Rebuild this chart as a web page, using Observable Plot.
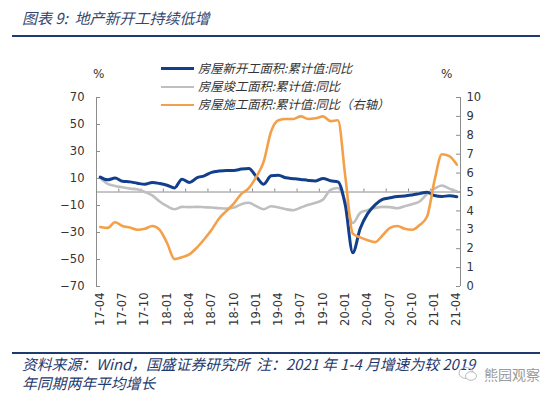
<!DOCTYPE html>
<html>
<head>
<meta charset="utf-8">
<script src="https://cdn.jsdelivr.net/npm/d3@7"></script>
<script src="https://cdn.jsdelivr.net/npm/@observablehq/plot@0.6"></script>
<style>
  body { margin: 0; background: #fff; }
  #wrap { position: relative; width: 550px; height: 397px; overflow: hidden; background: #fff; font-family: "Noto Sans CJK SC", sans-serif; }
  #chart { position: absolute; left: 0; top: 0; }
  .title { position: absolute; left: 22px; top: 9px; font-size: 15px; line-height: 18px; font-style: italic; color: #34466e; white-space: nowrap; }
  .rule { position: absolute; left: 12px; width: 528px; height: 2px; background: #1f3a6e; }
  .leg { position: absolute; left: 161px; font-size: 12.3px; line-height: 14px; color: #333; font-style: italic; white-space: nowrap; }
  .leg span.sw { display: inline-block; width: 33px; vertical-align: middle; margin-right: 4px; position: relative; top: -1px; }
  .pct { position: absolute; font-family: "DejaVu Sans", sans-serif; font-size: 12px; color: #333; }
  .foot { position: absolute; left: 22px; font-size: 14.8px; line-height: 17px; font-style: italic; color: #1f3a6e; white-space: nowrap; }
  .wm { position: absolute; left: 484px; top: 364px; font-size: 14px; color: #9a9a9a; white-space: nowrap; }
  .wmicon { position: absolute; left: 458px; top: 366px; width: 20px; height: 16px; }
</style>
</head>
<body>
<div id="wrap">
  <div class="title">图表 9:&nbsp; 地产新开工持续低增</div>
  <div class="rule" style="top:35px"></div>
  <div id="chart"></div>
  <div class="pct" style="left:93px; top:67px">%</div>
  <div class="pct" style="left:441px; top:67px">%</div>
  <div id="legend"></div>
  <div class="rule" style="top:352px"></div>
  <div class="foot" style="top:355px">资料来源：Wind，国盛证券研究所&nbsp; 注：2021 年 1-4 月增速为较 2019</div>
  <div class="foot" style="top:374px">年同期两年平均增长</div>
  <svg class="wmicon" viewBox="0 0 20 16"><ellipse cx="8" cy="7" rx="7" ry="5.5" fill="none" stroke="#bbb" stroke-width="1"/><ellipse cx="13" cy="10" rx="5.5" ry="4.3" fill="#fff" stroke="#bbb" stroke-width="1"/></svg>
  <div class="wm">熊园观察</div>
</div>
<script>
// ---- data ----
const months = [
  "17-04","17-05","17-06","17-07","17-08","17-09","17-10","17-11","17-12",
  "18-01","18-02","18-03","18-04","18-05","18-06","18-07","18-08","18-09","18-10","18-11","18-12",
  "19-01","19-02","19-03","19-04","19-05","19-06","19-07","19-08","19-09","19-10","19-11","19-12",
  "20-01","20-02","20-03","20-04","20-05","20-06","20-07","20-08","20-09","20-10","20-11","20-12",
  "21-01","21-02","21-03","21-04"
];
const xTickLabels = ["17-04","17-07","17-10","18-01","18-04","18-07","18-10","19-01","19-04","19-07","19-10","20-01","20-04","20-07","20-10","21-01","21-04"];

// 房屋新开工面积:累计值:同比 (left axis, %)
const newStarts = [
  11, 9, 10.3, 8, 7.5, 6.5, 5.7, 7, 6.3,
  5, 3, 9.5, 7, 10.5, 12, 14.5, 15.5, 16, 16, 17, 17.5,
  11.5, 5.8, 12, 12.5, 10.5, 9.9, 9.3, 8.6, 8.2, 10, 8.3, 7.5,
  -10, -45, -27, -16, -9.5, -5.5, -4.3, -3.3, -3, -2.2, -1.2, -0.2,
  -2.6, -3.3, -2.8, -3.5
];
// 房屋竣工面积:累计值:同比 (left axis, %)
const completions = [
  10.5, 6, 4.5, 3.5, 2.5, 2, 0, -2.5, -7,
  -10.5, -12.8, -11, -11.2, -11, -11.3, -11.5, -12, -12.3, -11.5, -9, -8,
  -10.5, -12.8, -10.5, -11.5, -12.8, -13.5, -11.5, -9.5, -8, -5.5, 1.5, 3,
  -7, -23, -15.5, -13.5, -11.8, -11, -11.2, -12, -10.5, -9, -7, -1.5,
  2.5, 4.8, 2.5, 0.5
];
// 房屋施工面积:累计值:同比 (right axis, %)
const underConstruction = [
  3.15, 3.1, 3.4, 3.2, 3.12, 3.0, 3.05, 3.2, 3.0,
  2.3, 1.45, 1.55, 1.7, 2.05, 2.5, 3.0, 3.6, 4.0, 4.4, 4.9, 5.2,
  5.8, 6.6, 8.2, 8.8, 8.86, 8.86, 9.0, 8.86, 8.9, 9.0, 8.75, 8.8,
  5.8, 2.8, 2.6, 2.45, 2.35, 2.7, 3.1, 3.2, 3.05, 3.0, 3.25, 3.7,
  5.6, 7.0, 6.9, 6.45
];

const seriesNames = ["房屋新开工面积:累计值:同比", "房屋竣工面积:累计值:同比", "房屋施工面积:累计值:同比（右轴）"];
const seriesColors = ["#123f8c", "#bfbfbf", "#f4a04a"];

const leftTicks = [70, 50, 30, 10, -10, -30, -50, -70];
const rightTicks = [0, 1, 2, 3, 4, 5, 6, 7, 8, 9, 10];

// ---- helpers ----
const leftMin = -70, leftMax = 70, rightMin = 0, rightMax = 10;
const toLeft = v => leftMin + (v - rightMin) * (leftMax - leftMin) / (rightMax - rightMin);
const fromLeft = v => rightMin + (v - leftMin) * (rightMax - rightMin) / (leftMax - leftMin);

const rows = months.map((m, i) => ({i, m, a: newStarts[i], b: completions[i], c: toLeft(underConstruction[i])}));
const xTickIdx = xTickLabels.map(l => months.indexOf(l));
const lastIdx = months.length - 1;
const boundaries = d3.range(-0.5 + 3, lastIdx, 3);
const axisColor = "#8c8c8c";

const chart = Plot.plot({
  width: 550,
  height: 397,
  marginLeft: 96,
  marginRight: 90,
  marginTop: 97,
  marginBottom: 111,
  style: {fontFamily: "DejaVu Sans, sans-serif", fontSize: "11.5px", color: "#333", background: "transparent"},
  x: {type: "linear", domain: [-0.5, lastIdx + 0.5], label: null},
  y: {type: "linear", domain: [leftMin, leftMax], label: null},
  marks: [
    // zero line with category tick marks
    Plot.ruleY([0], {stroke: axisColor, strokeWidth: 1}),
    Plot.ruleX(boundaries, {y1: 0, y2: 0, insetTop: -3, stroke: axisColor}),
    // axis lines
    Plot.ruleX([-0.5], {y1: leftMin, y2: leftMax, stroke: axisColor}),
    Plot.ruleX([lastIdx + 0.5], {y1: leftMin, y2: leftMax, stroke: axisColor}),
    // inner ticks
    Plot.ruleY(leftTicks, {x1: -0.5, x2: -0.5, insetRight: -4, stroke: axisColor}),
    Plot.ruleY(rightTicks.map(toLeft), {x1: lastIdx + 0.5, x2: lastIdx + 0.5, insetLeft: -4, stroke: axisColor}),
    // series
    Plot.line(rows, {x: "i", y: "b", stroke: seriesColors[1], strokeWidth: 2.6, curve: "monotone-x"}),
    Plot.line(rows, {x: "i", y: "a", stroke: seriesColors[0], strokeWidth: 3, curve: "monotone-x"}),
    Plot.line(rows, {x: "i", y: "c", stroke: seriesColors[2], strokeWidth: 2.6, curve: "monotone-x"}),
    // axes
    Plot.axisY(leftTicks, {anchor: "left", tickSize: 0, tickPadding: 12, label: null}),
    Plot.axisY(rightTicks.map(toLeft), {anchor: "right", tickSize: 0, tickPadding: 6, tickFormat: d => String(Math.round(fromLeft(d))), label: null}),
    Plot.axisX(xTickIdx, {anchor: "bottom", tickSize: 0, tickPadding: 6, tickRotate: -90, tickFormat: i => months[i], label: null})
  ]
});
document.getElementById("chart").appendChild(chart);

// legend
const legend = document.getElementById("legend");
const legendTops = [61, 79, 97];
seriesNames.forEach((name, k) => {
  const d = document.createElement("div");
  d.className = "leg";
  d.style.top = legendTops[k] + "px";
  const sw = document.createElement("span");
  sw.className = "sw";
  sw.style.borderTop = (k === 0 ? 3 : 2.6) + "px solid " + seriesColors[k];
  d.appendChild(sw);
  d.appendChild(document.createTextNode(name));
  legend.appendChild(d);
});
</script>
</body>
</html>
